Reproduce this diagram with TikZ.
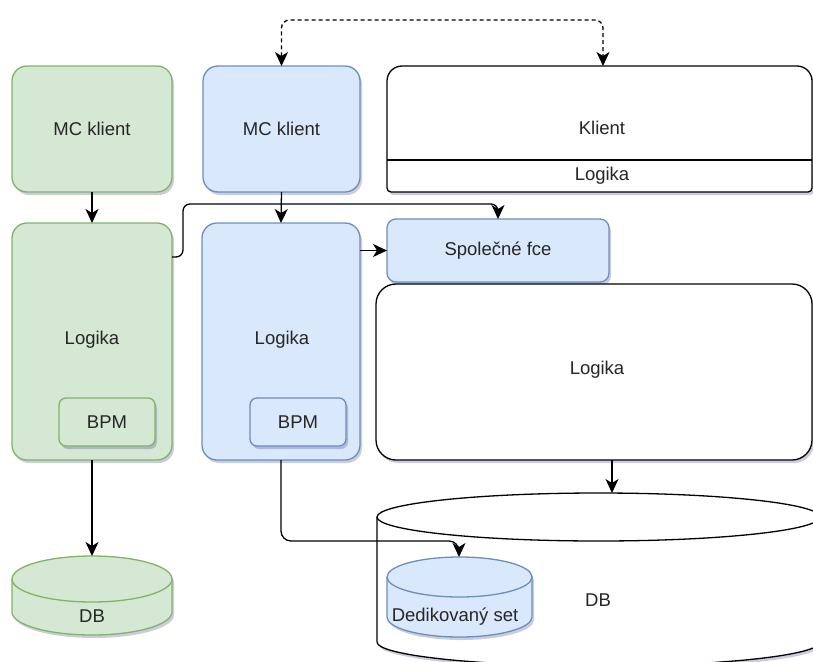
\documentclass[tikz,border=0pt]{standalone}
\usepackage{fontspec}
\setmainfont{Liberation Sans}
\usetikzlibrary{arrows.meta,shadows,calc}

\definecolor{gfill}{HTML}{D5E8D4}
\definecolor{gline}{HTML}{82B366}
\definecolor{bfill}{HTML}{DAE8FC}
\definecolor{bline}{HTML}{6C8EBF}
\definecolor{txt}{HTML}{262626}

\tikzset{
  x=1pt, y=1pt,
  lbl/.style={font=\fontsize{18.5}{22}\selectfont, text=txt},
  softshadow/.style={drop shadow={shadow xshift=2pt, shadow yshift=-3pt, opacity=0.2, fill=black!60!blue}},
  box/.style={lbl, rectangle, inner sep=0pt, outer sep=0pt, anchor=north west, line width=1.3pt, softshadow},
  gbox/.style={box, draw=gline, fill=gfill, rounded corners=15pt},
  bbox/.style={box, draw=bline, fill=bfill, rounded corners=15pt},
  gsmall/.style={box, draw=gline, fill=gfill, rounded corners=7pt},
  bsmall/.style={box, draw=bline, fill=bfill, rounded corners=7pt},
  tip/.style={Stealth[length=14pt,width=13pt,inset=4pt]},
  arr/.style={draw=black, line width=1.3pt, -{Stealth[length=14pt,width=13pt,inset=4pt]}},
  biarr/.style={draw=black, line width=1.3pt, dash pattern=on 4pt off 3pt,
    {Stealth[length=14pt,width=13pt,inset=4pt]}-{Stealth[length=14pt,width=13pt,inset=4pt]}},
}

% database cylinder: left x, top y, right x, bottom y (screen units, y downwards),
% half height of the caps, fill colour, line colour
\newcommand\dbcyl[7]{%
  \path[draw=#7, fill=#6, line width=1.3pt, softshadow]
    (#1,{-(#2+#5)}) -- (#1,{-(#4-#5)})
    arc[start angle=180, end angle=360, x radius={(#3-#1)/2}, y radius=#5]
    -- (#3,{-(#2+#5)})
    arc[start angle=0, end angle=180, x radius={(#3-#1)/2}, y radius=#5] -- cycle;
  \draw[#7, line width=1.3pt] (#1,{-(#2+#5)})
    arc[start angle=180, end angle=360, x radius={(#3-#1)/2}, y radius=#5];
}

\begin{document}
\begin{tikzpicture}
\useasboundingbox (0,0) rectangle (813,-661);
\clip (0,0) rectangle (813,-661);

% green column
\node[gbox, minimum width=160pt, minimum height=126pt] (gmc) at (12,-66) {MC klient};
\node[gbox, minimum width=160pt, minimum height=237pt] (glog) at (12,-223) {};
\node[lbl] (glogt) at (92,-340) {Logika};
\node[gsmall, minimum width=96pt, minimum height=48pt] (gbpm) at (59,-398) {BPM};

% blue column
\node[bbox, minimum width=157pt, minimum height=126pt] (bmc) at (203,-66) {MC klient};
\node[bbox, minimum width=158pt, minimum height=237pt] (blog) at (202,-223) {};
\node[lbl] (blogt) at (282,-340) {Logika};
\node[bsmall, minimum width=96pt, minimum height=48pt] (bbpm) at (250,-398) {BPM};

\node[bsmall, rounded corners=9pt, minimum width=222pt, minimum height=63pt] (spol) at (387,-219) {Společné fce};

% client with its logic strip
\filldraw[draw=black, fill=white, line width=1.3pt, softshadow]
  (387,-130) [rounded corners=15pt] -- (387,-66) -- (812,-66) -- (812,-130)
  [rounded corners=4pt] -- (812,-192) -- (387,-192) -- cycle;
\draw[line width=1.3pt] (387,-160) -- (812,-160);
\node[lbl] (klient) at (602,-128) {Klient};
\node[lbl] (klog) at (602,-176) {Logika};
\coordinate (klin) at (603,-66);

% shared logic
\node[box, draw=black, fill=white, rounded corners=20pt, minimum width=436pt, minimum height=176pt] (rlog) at (376,-284) {};
\node[lbl] (rlogt) at (597,-370) {Logika};

% databases
\dbcyl{377}{493}{820}{666}{24}{white}{black}
\node[lbl] (db) at (598,-600) {DB};
\coordinate (dbin) at (612,-493);

\dbcyl{387}{557}{532}{637}{20}{bfill}{bline}
\node[lbl] (ded) at (455,-617) {Dedikovaný set};
\coordinate (dedin) at (459,-557);

\dbcyl{12}{556}{172}{635}{23}{gfill}{gline}
\node[lbl] (gdb) at (92,-616) {DB};
\coordinate (gdbin) at (92,-556);

% connectors
\draw[arr] (gmc.south) -- (glog.north);
\draw[arr] (bmc.south) -- (blog.north);
\draw[arr] (glog.south) -- (gdbin);
\draw[arr, rounded corners=7pt] ($(glog.north east)+(0,-34)$) -- ++(11,0) |- ($(spol.north)+(0,15)$) -- (spol.north);
\draw[arr] (blog.east |- spol.west) -- (spol.west);
\draw[arr, rounded corners=10pt] (blog.south) -- ++(0,-81) -| (dedin);
\draw[arr] (rlog.south -| dbin) -- (dbin);
\draw[biarr, rounded corners=8pt] (bmc.north) -- ++(0,46) -| (klin);
\end{tikzpicture}
\end{document}
